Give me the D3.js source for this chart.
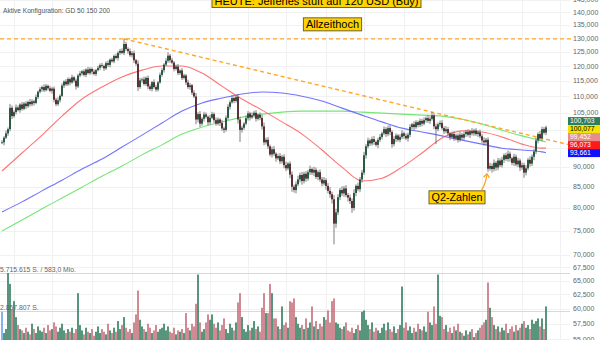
<!DOCTYPE html>
<html>
<head>
<meta charset="utf-8">
<script src="https://cdn.jsdelivr.net/npm/d3@7"></script>
<style>
  body { margin: 0; background: #fff; }
  svg { display: block; font-family: "Liberation Sans", Arial, sans-serif; }
</style>
</head>
<body>
<div id="chart"></div>
<script>
// daily closes (USD), one per session
const closes = [
  96.5, 97.8, 99.0, 100.2, 106.5, 104.0, 105.2, 106.6, 105.8, 107.5,
  106.2, 107.8, 107.0, 108.3, 107.6, 108.5, 108.0, 109.8, 111.5, 112.3,
  113.0, 112.0, 113.4, 112.6, 111.8, 112.5, 109.0, 107.6, 108.8, 110.2,
  113.5, 114.8, 113.9, 115.6, 114.5, 116.2, 115.1, 113.2, 116.8, 117.5,
  118.2, 117.0, 118.8, 117.6, 119.0, 118.1, 117.3, 118.6, 119.4, 120.3,
  120.0, 119.2, 121.0, 120.4, 122.2, 121.6, 123.5, 122.8, 124.6, 125.3,
  124.6, 127.8, 126.0, 125.2, 123.8, 124.5, 122.0, 120.8, 113.0, 115.2,
  115.5, 114.0, 116.0, 113.2, 112.4, 114.6, 113.0, 112.2, 114.5, 117.0,
  118.6, 120.5, 121.8, 123.6, 122.0, 121.2, 119.0, 119.8, 117.6, 118.5,
  116.0, 116.8, 114.5, 113.0, 113.6, 111.2, 110.0, 103.0, 104.6, 101.8,
  103.2, 104.5, 103.8, 102.2, 103.5, 104.6, 102.8, 101.8, 103.0, 102.0,
  100.4, 100.0, 103.5, 106.8, 108.2, 109.5, 108.6, 109.8, 103.0, 100.0,
  100.6, 101.8, 103.4, 104.8, 103.6, 104.2, 105.0, 103.2, 104.4, 103.5,
  101.0, 96.5, 97.2, 95.4, 93.2, 94.6, 93.4, 92.2, 92.8, 91.4,
  92.6, 90.4, 89.6, 90.8, 88.0, 85.0, 84.2, 85.6, 86.8, 87.9,
  86.4, 88.2, 87.0, 88.6, 89.4, 88.5, 89.2, 87.4, 88.6, 86.8,
  85.8, 86.6, 85.2, 84.0, 83.2, 82.0, 76.5, 79.0, 82.5, 84.2,
  83.4, 84.6, 83.0, 82.4, 81.6, 80.0, 83.5, 85.2, 84.4, 86.8,
  88.5, 93.0, 95.4, 97.0, 96.2, 97.4, 96.6, 95.8, 97.2, 98.0,
  99.0, 100.2, 98.8, 100.5, 99.4, 96.0, 97.4, 98.4, 97.2, 98.0,
  99.0, 98.3, 97.6, 98.6, 100.8, 101.6, 100.8, 102.2, 101.4, 102.6,
  101.8, 102.8, 103.4, 102.6, 103.2, 104.2, 101.0, 100.2, 101.6, 102.0,
  100.5, 99.6, 100.2, 99.0, 98.0, 98.8, 97.6, 98.4, 97.2, 98.6,
  97.8, 98.8, 99.4, 98.6, 99.6, 99.0, 99.8, 98.8, 99.3, 98.2,
  97.0, 96.5, 97.2, 89.5, 90.2, 89.4, 91.0, 89.8, 91.6, 90.4,
  91.8, 93.0, 92.0, 93.4, 92.2, 91.0, 92.6, 90.6, 91.6, 89.8,
  90.4, 88.5, 89.6, 91.8, 90.8, 92.6, 94.0, 97.0, 98.8, 97.6,
  100.2, 99.2, 100.703
];

// distance from body top to high, and body bottom to low
const wickHi = [
  0.6, 0.4, 0.8, 0.5, 1.2, 0.7, 0.5, 0.9, 0.6, 0.4,
  0.8, 0.5, 0.7, 0.4, 0.9, 0.6, 0.5, 0.8, 0.4, 0.7,
  0.5, 0.9, 0.6, 0.4, 0.8, 0.5, 0.7, 0.6, 0.9, 0.5,
  0.7, 0.4, 0.8, 0.6, 0.5, 0.9, 0.4, 0.7, 0.6, 0.8,
  0.5, 0.7, 0.4, 0.9, 0.6, 0.5, 0.8, 0.4, 0.7, 0.6,
  0.8, 0.5, 0.6, 0.9, 0.4, 0.7, 0.5, 0.8, 0.6, 0.7,
  0.9, 1.9, 0.8, 0.6, 1.0, 0.7, 0.9, 0.5, 1.2, 0.8,
  0.6, 0.9, 0.5, 0.8, 0.7, 0.4, 0.9, 0.6, 0.5, 0.8,
  0.7, 0.5, 0.9, 1.2, 0.6, 0.8, 0.5, 0.7, 0.9, 0.4,
  0.8, 0.6, 0.5, 0.9, 0.7, 0.4, 0.8, 1.1, 0.6, 0.9,
  0.5, 0.8, 0.6, 0.4, 0.9, 0.7, 0.5, 0.8, 0.6, 0.4,
  0.9, 0.5, 0.7, 0.8, 0.6, 0.9, 0.5, 0.7, 1.0, 0.8,
  0.6, 0.4, 0.8, 0.7, 0.5, 0.9, 0.6, 0.8, 0.4, 0.7,
  0.9, 1.1, 0.6, 0.8, 0.5, 0.7, 0.9, 0.4, 0.6, 0.8,
  0.5, 0.7, 0.9, 0.4, 0.6, 0.8, 0.5, 0.7, 0.9, 0.6,
  0.8, 0.5, 0.7, 0.6, 0.9, 0.4, 0.8, 0.6, 0.5, 0.7,
  0.6, 0.8, 0.5, 0.7, 0.9, 0.6, 1.0, 0.8, 0.7, 0.5,
  0.9, 0.6, 0.8, 0.5, 0.7, 0.6, 0.9, 0.4, 0.8, 0.6,
  0.7, 0.9, 0.6, 0.8, 0.5, 0.7, 0.9, 0.4, 0.6, 0.8,
  0.5, 0.8, 0.6, 0.7, 0.9, 0.5, 0.8, 0.6, 0.4, 0.7,
  0.9, 0.5, 0.7, 0.6, 0.8, 0.4, 0.9, 0.6, 0.5, 0.7,
  0.6, 0.8, 0.5, 0.9, 0.7, 1.0, 0.6, 0.8, 0.5, 0.7,
  0.8, 0.5, 0.9, 0.6, 0.4, 0.7, 0.8, 0.5, 0.6, 0.9,
  0.5, 0.7, 0.6, 0.8, 0.4, 0.9, 0.5, 0.7, 0.6, 0.8,
  0.6, 0.9, 0.5, 0.7, 0.8, 0.6, 0.9, 0.5, 0.7, 0.6,
  0.8, 0.5, 0.7, 0.9, 0.6, 0.4, 0.8, 0.6, 0.7, 0.5,
  0.7, 0.6, 0.8, 0.5, 0.9, 0.6, 0.7, 0.8, 0.5, 0.9,
  0.7, 0.6, 0.5
];
const wickLo = [
  0.5, 0.8, 0.4, 0.7, 0.6, 0.9, 0.5, 0.7, 0.4, 0.8,
  0.6, 0.4, 0.9, 0.5, 0.7, 0.6, 0.8, 0.4, 0.6, 0.5,
  0.8, 0.6, 0.4, 0.7, 0.5, 0.9, 0.8, 0.6, 0.5, 0.7,
  0.4, 0.8, 0.6, 0.5, 0.9, 0.4, 0.7, 1.0, 0.5, 0.6,
  0.7, 0.5, 0.8, 0.4, 0.6, 0.9, 0.5, 0.7, 0.4, 0.8,
  0.6, 0.9, 0.5, 0.7, 0.8, 0.4, 0.6, 0.5, 0.9, 0.7,
  0.5, 0.8, 0.7, 0.9, 0.6, 0.8, 1.0, 0.7, 1.3, 0.6,
  0.8, 0.5, 0.7, 0.9, 0.6, 0.8, 0.5, 0.7, 0.6, 0.4,
  0.6, 0.8, 0.5, 0.7, 0.9, 0.6, 0.8, 0.5, 0.7, 0.6,
  0.7, 0.5, 0.8, 0.6, 0.9, 0.7, 0.5, 1.4, 0.8, 1.0,
  0.6, 0.8, 0.5, 0.9, 0.7, 0.4, 0.8, 0.6, 0.5, 0.9,
  0.7, 0.9, 0.5, 0.6, 0.8, 0.4, 0.7, 0.5, 1.2, 3.4,
  0.8, 0.6, 0.5, 0.7, 0.9, 0.4, 0.6, 0.8, 0.5, 0.7,
  0.9, 0.8, 0.6, 0.7, 0.5, 0.8, 0.6, 0.9, 0.5, 0.7,
  0.6, 0.8, 0.7, 0.5, 0.9, 1.2, 0.6, 0.8, 0.5, 0.7,
  0.9, 0.6, 0.8, 0.5, 0.7, 0.6, 0.9, 0.5, 0.8, 0.6,
  0.7, 0.5, 0.9, 0.6, 0.8, 1.0, 4.4, 0.9, 0.6, 0.7,
  0.6, 0.8, 0.5, 0.9, 0.7, 1.1, 0.6, 0.8, 0.5, 0.7,
  0.8, 0.6, 0.9, 0.5, 0.7, 0.6, 0.8, 0.5, 0.9, 0.6,
  0.7, 0.5, 0.8, 0.6, 0.9, 1.0, 0.6, 0.8, 0.5, 0.7,
  0.6, 0.8, 0.5, 0.9, 0.7, 0.6, 0.8, 0.5, 0.7, 0.6,
  0.8, 0.5, 0.7, 0.6, 0.9, 0.5, 0.8, 4.2, 0.6, 0.7,
  0.5, 0.8, 0.6, 0.7, 0.9, 0.5, 0.7, 0.6, 0.8, 0.5,
  0.7, 0.6, 0.8, 0.5, 0.9, 0.6, 0.7, 0.5, 0.8, 0.6,
  0.7, 0.9, 0.6, 0.8, 0.5, 0.9, 0.6, 0.8, 0.7, 0.5,
  0.6, 0.8, 0.5, 0.7, 0.9, 0.6, 0.8, 0.5, 0.7, 0.9,
  0.6, 1.3, 0.7, 0.5, 0.8, 0.6, 0.9, 0.7, 0.8, 0.6,
  0.8, 0.5, 0.7
];

// traded shares per session, millions
const volumes = [
  2.8, 1.2, 1.5, 5.715615, 4.9, 3.0, 3.6, 2.4, 1.8, 1.5,
  1.4, 1.2, 1.6, 1.3, 1.1, 1.9, 1.5, 1.2, 1.7, 1.4,
  1.3, 1.6, 1.2, 1.8, 1.4, 1.5, 2.0, 1.7, 1.3, 1.6,
  1.9, 1.4, 1.2, 1.5, 1.3, 1.6, 1.2, 1.5, 4.2, 1.8,
  1.4, 1.1, 1.6, 1.3, 1.2, 1.5, 1.0, 1.3, 1.7, 1.2,
  1.5, 1.3, 1.1, 1.9, 1.4, 1.2, 1.6, 1.3, 2.1, 1.5,
  1.8, 2.4, 1.6, 1.3, 1.5, 1.2, 2.0, 2.6, 4.4, 2.2,
  1.7, 1.5, 1.3, 1.9, 1.6, 1.2, 1.4, 1.8, 1.3, 1.5,
  1.6, 1.9, 1.4, 1.7, 1.3, 1.2, 1.6, 1.1, 1.4, 1.3,
  1.5, 1.2, 2.7, 1.6, 1.4, 1.9, 1.7, 3.4, 5.6, 2.0,
  1.3, 1.5, 2.0, 2.6, 2.2, 2.6, 1.9, 1.6, 2.0, 1.4,
  1.8, 2.3, 1.5, 1.2, 1.9, 1.6, 1.4, 2.0, 3.5, 4.2,
  2.4, 1.5, 1.3, 1.8, 1.4, 1.6, 2.1, 1.5, 1.7, 1.3,
  3.1, 4.2, 2.7, 2.7, 4.9, 4.2, 2.3, 2.3, 1.7, 1.5,
  3.2, 1.8, 2.0, 1.6, 3.6, 3.5, 3.8, 2.4, 1.9, 1.6,
  1.8, 1.5, 2.3, 1.6, 2.0, 3.2, 1.7, 2.1, 1.5, 1.9,
  1.7, 2.4, 2.2, 2.9, 2.0, 3.6, 3.8, 2.0, 1.9, 1.6,
  1.5, 1.7, 2.0, 1.4, 1.3, 1.6, 1.2, 1.5, 1.8, 1.4,
  2.8, 2.9, 2.2, 1.8, 1.5, 2.0, 1.3, 1.6, 1.4, 1.2,
  1.6, 1.9, 1.4, 2.0, 1.5, 1.3, 1.7, 1.2, 1.5, 1.8,
  4.7, 1.6, 2.0, 1.4, 1.7, 1.2, 1.6, 1.3, 1.9, 1.5,
  1.4, 1.7, 1.3, 2.8, 2.0, 1.8, 3.2, 1.9, 5.6, 2.5,
  2.4, 1.5, 1.8, 1.3, 1.6, 1.2, 1.7, 1.4, 1.9, 1.3,
  1.2, 1.0, 1.4, 1.1, 1.3, 1.5, 0.9, 1.2, 1.4, 1.6,
  1.8, 2.0, 2.2, 5.0, 3.1, 2.4, 1.8, 1.5, 1.7, 1.3,
  1.6, 1.4, 1.9, 1.2, 1.5, 1.7, 1.3, 1.8, 1.4, 1.6,
  1.9, 2.1, 1.6, 1.8, 1.5, 2.2, 1.9, 2.1, 2.3, 1.7,
  2.3, 1.5, 3.2
];

// moving averages, sampled every 10 sessions (last point = last session)
const maStep = 10;
const gd50 = [88.9, 93.6, 98.5, 104.0, 109.2, 113.0, 116.3, 118.6, 120.0, 120.0,
  117.6, 113.3, 109.2, 105.8, 102.3, 98.8, 94.4, 89.9, 86.4, 87.1,
  89.9, 93.6, 97.7, 99.7, 99.4, 98.0, 96.0, 94.9, 94.9];
const gd150 = [79.1, 81.4, 84.0, 86.6, 89.4, 92.0, 95.2, 98.5, 102.0, 105.5,
  108.0, 109.5, 110.8, 111.4, 111.1, 110.1, 108.6, 106.4, 104.3, 102.3,
  100.5, 99.4, 98.3, 97.1, 96.0, 94.9, 94.4, 93.9, 93.661];
const gd200 = [74.9, 77.3, 79.8, 82.3, 84.9, 87.6, 90.2, 93.1, 95.8, 98.8,
  100.8, 102.3, 103.7, 104.6, 105.2, 105.5, 105.5, 105.5, 105.2, 104.9,
  104.6, 104.3, 104.0, 103.1, 101.7, 99.9, 98.3, 96.9, 96.6];

const priceTicks = [145, 140, 135, 130, 125, 120, 115, 110, 105, 100, 95, 90, 85, 80, 75, 70, 67.5, 65, 62.5, 60, 57.5, 55];
const monthStarts = [6, 25, 45, 65, 85, 104, 123, 142, 162, 181, 201, 220, 240, 260, 279];

const allTimeHigh = 129.7;
const trendFrom = [61, 129.7];
const trendTo = [215, 105.2];
const q2Day = 243;

const lastValues = [
  { value: 100.703, fill: "#2e7d5b", color: "#fff" },
  { value: 100.077, fill: "#f2e400", color: "#000" },
  { value: 99.452, fill: "#e58c8c", color: "#fff" },
  { value: 96.073, fill: "#ff1a1a", color: "#fff" },
  { value: 93.661, fill: "#1010ff", color: "#fff" }
];

const width = 600, height = 340;
const de = d3.formatLocale({ decimal: ",", thousands: ".", grouping: [3], currency: ["", ""] });
const fmtPrice = de.format(",.3f");
const fmtInt = de.format(",d");

const svg = d3.select("#chart").append("svg")
  .attr("width", width)
  .attr("height", height);

const x = d3.scaleLinear().domain([0, 299]).range([2, 600]);
const y = d3.scaleLog().domain([55, 145]).range([339.1, -0.2]);
const maxVol = d3.max(volumes);
const yVol = d3.scaleLinear().domain([0, maxVol]).range([349, 273]);

const candles = closes.map((c, i) => {
  const o = i === 0 ? c : closes[i - 1];
  return { i, o, c, h: Math.max(o, c) + wickHi[i], l: Math.min(o, c) - wickLo[i], v: volumes[i] };
});

// grid
svg.append("g").selectAll("line").data(priceTicks).join("line")
  .attr("x1", 0).attr("x2", 570)
  .attr("y1", d => Math.round(y(d)) + 0.5).attr("y2", d => Math.round(y(d)) + 0.5)
  .attr("stroke", "#f1f1f1");
svg.append("g").selectAll("line").data(monthStarts).join("line")
  .attr("x1", d => Math.round(x(d)) + 0.5).attr("x2", d => Math.round(x(d)) + 0.5)
  .attr("y1", 0).attr("y2", height)
  .attr("stroke", "#f1f1f1");

// price axis labels
svg.append("g").selectAll("text").data(priceTicks).join("text")
  .attr("x", 573).attr("y", d => y(d) + 2.5)
  .attr("font-size", 7).attr("fill", "#666")
  .text(d => fmtPrice(d));

// volume panel
const volMarks = [maxVol, maxVol / 2];
svg.append("g").selectAll("line").data(volMarks).join("line")
  .attr("x1", 0).attr("x2", 570)
  .attr("y1", d => Math.round(yVol(d)) + 0.5).attr("y2", d => Math.round(yVol(d)) + 0.5)
  .attr("stroke", "#d8d8d8");
svg.append("text").attr("x", 0).attr("y", yVol(maxVol) - 1.5)
  .attr("font-size", 6.8).attr("fill", "#666")
  .text(fmtInt(Math.round(maxVol * 1e6)) + " S. / 583,0 Mio.");
svg.append("text").attr("x", 0).attr("y", yVol(maxVol / 2) - 1.5)
  .attr("font-size", 6.8).attr("fill", "#666")
  .text(fmtInt(Math.floor(maxVol * 1e6 / 2)) + " S.");

svg.append("g").selectAll("rect").data(candles).join("rect")
  .attr("x", d => x(d.i) - 0.8)
  .attr("width", 1.6)
  .attr("y", d => yVol(d.v))
  .attr("height", d => yVol(0) - yVol(d.v))
  .attr("fill", d => d.i === 0 ? "#6f9fe6" : (d.c >= d.o ? "#2f7d5c" : "#c46e7a"));

// moving averages
const maLine = d3.line()
  .x((d, k) => x(Math.min(k * maStep, closes.length - 1)))
  .y(d => y(d))
  .curve(d3.curveMonotoneX);
[[gd200, "#5fe05f"], [gd150, "#5a5aff"], [gd50, "#ff5c5c"]].forEach(([vals, col]) => {
  svg.append("path").datum(vals)
    .attr("d", maLine)
    .attr("fill", "none")
    .attr("stroke", col)
    .attr("stroke-width", 1.1)
    .attr("opacity", 0.85);
});

// all-time high and falling resistance
const yAth = y(allTimeHigh);
svg.append("line")
  .attr("x1", 0).attr("x2", 571).attr("y1", yAth).attr("y2", yAth)
  .attr("stroke", "#ffa726").attr("stroke-width", 1.4).attr("stroke-dasharray", "4,3");

const tx1 = x(trendFrom[0]), ty1 = y(trendFrom[1]);
const tx2 = x(trendTo[0]), ty2 = y(trendTo[1]);
const slope = (ty2 - ty1) / (tx2 - tx1);
svg.append("line")
  .attr("x1", tx1).attr("y1", ty1)
  .attr("x2", width).attr("y2", ty1 + slope * (width - tx1))
  .attr("stroke", "#ffa726").attr("stroke-width", 1.4).attr("stroke-dasharray", "4,3");

// candles
const cg = svg.append("g");
cg.selectAll("line").data(candles).join("line")
  .attr("x1", d => x(d.i)).attr("x2", d => x(d.i))
  .attr("y1", d => y(d.h)).attr("y2", d => y(d.l))
  .attr("stroke", "#5e5e5e").attr("stroke-width", 0.8);
cg.selectAll("rect").data(candles).join("rect")
  .attr("x", d => x(d.i) - 0.9)
  .attr("width", 1.8)
  .attr("y", d => y(Math.max(d.o, d.c)))
  .attr("height", d => Math.max(0.8, y(Math.min(d.o, d.c)) - y(Math.max(d.o, d.c))))
  .attr("fill", d => d.c >= d.o ? "#1b4f38" : "#4f2328");

// last value tags, stacked so they do not overlap
const tagH = 8;
let groups = lastValues.map(d => ({ items: [d], pos: y(d.value) }));
groups.sort((a, b) => a.pos - b.pos);
let merged = true;
while (merged) {
  merged = false;
  for (let k = 0; k < groups.length - 1; k++) {
    const a = groups[k], b = groups[k + 1];
    const aEnd = a.pos + (a.items.length - 1) * tagH / 2 + tagH / 2;
    const bStart = b.pos - (b.items.length - 1) * tagH / 2 - tagH / 2;
    if (aEnd > bStart) {
      const items = a.items.concat(b.items);
      groups.splice(k, 2, { items, pos: d3.mean(items, d => y(d.value)) });
      merged = true;
      break;
    }
  }
}
const tags = [];
groups.forEach(g => g.items.forEach((d, k) => tags.push({ ...d, cy: g.pos + (k - (g.items.length - 1) / 2) * tagH })));
const tg = svg.append("g").selectAll("g").data(tags).join("g")
  .attr("transform", d => `translate(568,${d.cy - tagH / 2})`);
tg.append("rect").attr("width", 32).attr("height", tagH).attr("fill", d => d.fill);
tg.append("text").attr("x", 2).attr("y", 6.2)
  .attr("font-size", 6.8).attr("fill", d => d.color)
  .text(d => fmtPrice(d.value));

// notes
svg.append("text").attr("x", 3).attr("y", 12.5)
  .attr("font-size", 6.6).attr("fill", "#555")
  .text("Aktive Konfiguration: GD 50 150 200");

function note(cx, cy, txt, size) {
  const g = svg.append("g");
  const t = g.append("text").attr("x", cx).attr("y", cy)
    .attr("text-anchor", "middle").attr("dominant-baseline", "central")
    .attr("font-size", size).attr("fill", "#000").text(txt);
  const b = t.node().getBBox();
  g.insert("rect", "text")
    .attr("x", b.x - 2.5).attr("y", cy - 6.5)
    .attr("width", b.width + 5).attr("height", 13)
    .attr("fill", "#ffd200").attr("stroke", "#6e6230").attr("stroke-width", 1);
}
note(316.5, 1, "HEUTE: Jefferies stuft auf 120 USD (Buy)", 11);
note(332.5, yAth - 14.5, "Allzeithoch", 11);

const q2 = candles[q2Day];
const tipX = x(q2.i) - 1, tipY = y(q2.l) + 2;
note(tipX - 30, tipY + 23.5, "Q2-Zahlen", 10.8);
const arrow = d3.path();
arrow.moveTo(tipX - 5.5, tipY + 16.5);
arrow.quadraticCurveTo(tipX - 1, tipY + 9, tipX, tipY);
svg.append("path").attr("d", arrow.toString())
  .attr("fill", "none").attr("stroke", "#ffa726").attr("stroke-width", 1.3);
svg.append("path")
  .attr("d", `M${tipX - 3.5},${tipY + 3.5} L${tipX},${tipY} L${tipX + 2.5},${tipY + 4}`)
  .attr("fill", "none").attr("stroke", "#ffa726").attr("stroke-width", 1.3);
</script>
</body>
</html>
